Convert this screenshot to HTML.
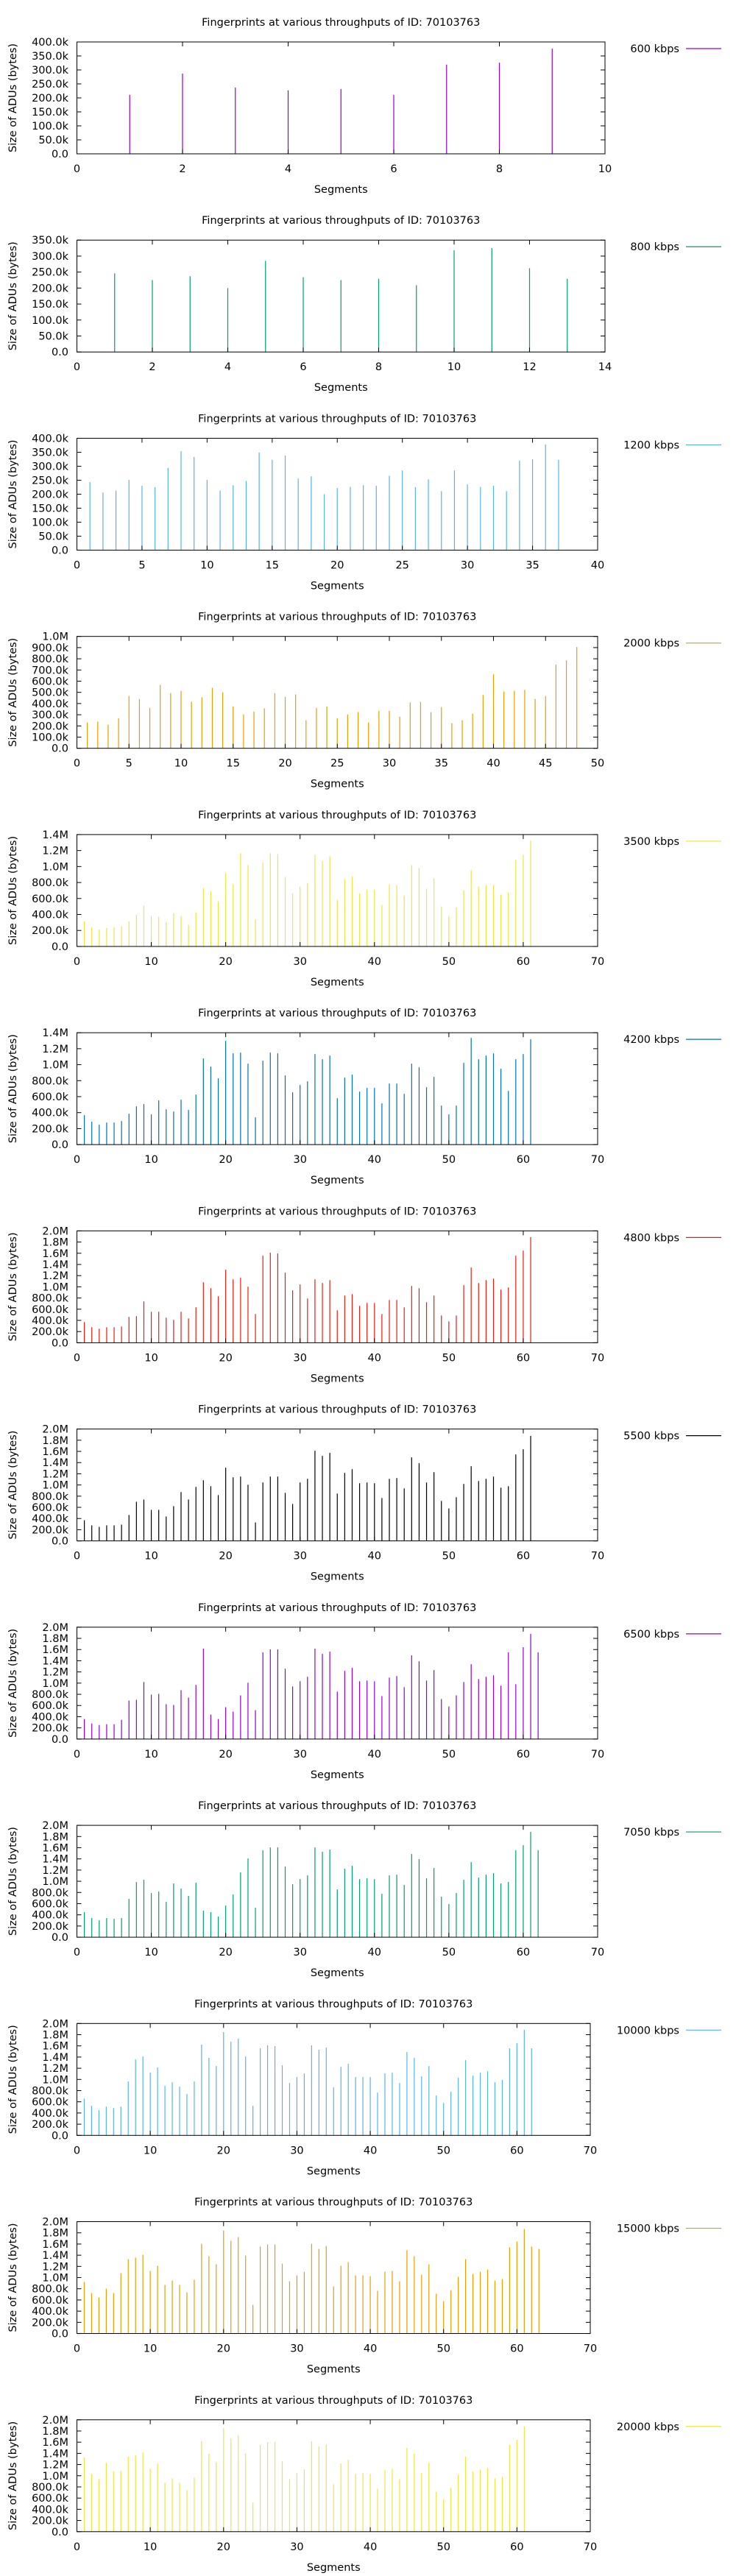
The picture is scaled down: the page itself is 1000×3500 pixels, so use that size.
<!DOCTYPE html>
<html>
<head>
<meta charset="utf-8">
<style>
html,body{margin:0;padding:0;background:#fff;}
svg{display:block;font-family:"DejaVu Sans","Liberation Sans",sans-serif;}
</style>
</head>
<body>
<svg id="chart" width="1000" height="3500" viewBox="0 0 1000 3500" xmlns="http://www.w3.org/2000/svg"></svg>
<script>
const labels = ["600 kbps","800 kbps","1200 kbps","2000 kbps","3500 kbps","4200 kbps","4800 kbps","5500 kbps","6500 kbps","7050 kbps","10000 kbps","15000 kbps","20000 kbps"];
const colors = ["#9400d3","#009e73","#56b4e9","#e69f00","#f0e442","#0072b2","#e51e10","#000000","#9400d3","#009e73","#56b4e9","#e69f00","#f0e442"];
const xMax = [10,14,40,50,70,70,70,70,70,70,70,70,70];
const xStep = [2,2,5,5,10,10,10,10,10,10,10,10,10];
const yMax = [400000,350000,400000,1000000,1400000,1400000,2000000,2000000,2000000,2000000,2000000,2000000,2000000];
const yStep = [50000,50000,50000,100000,200000,200000,200000,200000,200000,200000,200000,200000,200000];
const yTickLabels = [
 ["0.0","50.0k","100.0k","150.0k","200.0k","250.0k","300.0k","350.0k","400.0k"],
 ["0.0","50.0k","100.0k","150.0k","200.0k","250.0k","300.0k","350.0k"],
 ["0.0","50.0k","100.0k","150.0k","200.0k","250.0k","300.0k","350.0k","400.0k"],
 ["0.0","100.0k","200.0k","300.0k","400.0k","500.0k","600.0k","700.0k","800.0k","900.0k","1.0M"],
 ["0.0","200.0k","400.0k","600.0k","800.0k","1.0M","1.2M","1.4M"],
 ["0.0","200.0k","400.0k","600.0k","800.0k","1.0M","1.2M","1.4M"],
 ["0.0","200.0k","400.0k","600.0k","800.0k","1.0M","1.2M","1.4M","1.6M","1.8M","2.0M"],
 ["0.0","200.0k","400.0k","600.0k","800.0k","1.0M","1.2M","1.4M","1.6M","1.8M","2.0M"],
 ["0.0","200.0k","400.0k","600.0k","800.0k","1.0M","1.2M","1.4M","1.6M","1.8M","2.0M"],
 ["0.0","200.0k","400.0k","600.0k","800.0k","1.0M","1.2M","1.4M","1.6M","1.8M","2.0M"],
 ["0.0","200.0k","400.0k","600.0k","800.0k","1.0M","1.2M","1.4M","1.6M","1.8M","2.0M"],
 ["0.0","200.0k","400.0k","600.0k","800.0k","1.0M","1.2M","1.4M","1.6M","1.8M","2.0M"],
 ["0.0","200.0k","400.0k","600.0k","800.0k","1.0M","1.2M","1.4M","1.6M","1.8M","2.0M"]
];
const s600 = [211,287,237,227,232,211,319,326,376];
const s800 = [246,225,237,200,285,234,225,229,209,318,325,262,229];
const s1200 = [243,206,213,251,230,225,294,354,333,251,213,232,248,349,323,338,256,264,200,222,226,232,230,266,285,225,253,211,285,235,226,230,211,320,325,378,323];
const s2000 = [231,238,211,269,467,441,361,566,493,513,416,456,540,500,374,302,328,357,493,460,482,251,361,374,269,302,324,231,335,335,282,410,416,324,368,225,251,309,476,661,507,513,522,441,467,747,786,905];
const s3500 = [315,241,213,231,241,250,315,398,509,380,370,305,417,380,268,426,731,694,564,916,777,1166,1018,342,1055,1166,1156,870,666,749,796,1147,1073,1129,583,842,879,666,712,712,518,777,768,638,1018,981,722,851,500,379,490,703,953,749,768,768,648,675,1082,1147,1323];
const s4200 = [368,286,249,276,276,295,387,479,507,378,553,442,414,562,433,626,1078,976,829,1299,1142,1151,1013,341,1050,1151,1142,866,654,746,792,1133,1068,1114,580,838,875,663,709,709,516,764,764,635,1013,967,718,847,488,378,488,1022,1335,1068,1114,1142,949,672,1068,1133,1317];
const s4800 = [369,277,251,277,277,290,462,475,739,554,554,448,409,554,435,633,1081,976,831,1306,1134,1161,1002,514,1556,1609,1596,1253,936,1042,791,1134,1068,1121,580,844,870,659,712,712,514,765,765,633,1015,976,725,844,488,382,488,1029,1345,1068,1121,1147,950,989,1556,1648,1886];
const s5500 = [370,278,251,278,278,291,463,700,740,555,555,436,621,872,740,965,1084,978,819,1308,1137,1150,1004,330,1044,1150,1150,859,661,1044,1110,1612,1520,1573,846,1216,1282,1031,1044,1031,766,1110,1123,938,1493,1388,1044,1229,714,581,780,1018,1335,1070,1110,1150,951,978,1546,1639,1877];
const s6500 = [358,278,252,265,265,344,689,702,1020,795,808,623,609,874,742,967,1616,437,358,570,490,781,1007,517,1550,1603,1603,1258,940,1033,1113,1616,1523,1563,848,1219,1272,1033,1046,1033,768,1099,1126,927,1497,1391,1046,1232,715,583,781,1020,1338,1073,1113,1139,954,1550,980,1642,1881,1550];
const s7050 = [447,342,303,342,329,342,684,987,1026,789,816,632,961,868,737,974,474,447,368,566,763,1158,1408,526,1553,1605,1605,1263,947,1039,1105,1605,1526,1566,855,1224,1276,1039,1053,1039,776,1105,1118,934,1487,1395,1053,1237,724,592,789,1026,1342,1066,1118,1145,961,987,1553,1645,1882,1553];
const s10000 = [659,528,448,514,488,514,963,1358,1411,1121,1213,884,950,870,739,963,1622,1385,1240,1846,1675,1728,1411,528,1556,1609,1596,1253,936,1042,1108,1609,1530,1569,857,1226,1279,1042,1042,1042,765,1108,1121,936,1490,1385,1055,1240,712,580,778,1029,1345,1068,1121,1147,950,989,1556,1648,1886,1556];
const s15000 = [921,724,645,803,724,1079,1329,1355,1408,1118,1211,868,947,868,737,961,1605,1382,1237,1842,1658,1724,1395,513,1553,1592,1592,1250,934,1039,1105,1605,1513,1566,842,1211,1276,1039,1039,1026,763,1105,1118,934,1487,1382,1053,1237,711,579,776,1013,1329,1066,1105,1145,947,974,1540,1645,1868,1553,1513];
const s20000 = [1325,1033,940,1232,1073,1086,1338,1364,1417,1126,1219,874,954,874,742,967,1616,1391,1245,1854,1669,1722,1404,517,1550,1603,1603,1258,940,1046,1113,1616,1523,1563,848,1219,1285,1033,1046,1033,768,1099,1126,940,1497,1391,1046,1232,715,583,781,1020,1338,1073,1113,1139,954,980,1550,1642,1881];
const seriesK = [s600,s800,s1200,s2000,s3500,s4200,s4800,s5500,s6500,s7050,s10000,s15000,s20000];
const titleText = "Fingerprints at various throughputs of ID: 70103763";

const NS = "http://www.w3.org/2000/svg";
const svg = document.getElementById("chart");
function mk(tag, attrs, parent){
  const e = document.createElementNS(NS, tag);
  for (const k in attrs) e.setAttribute(k, attrs[k]);
  (parent||svg).appendChild(e);
  return e;
}
const PANEL_H = 3500/13;
const LEFT = 104.5;
function plotRight(i){
  const n = labels[i].length;
  if (n <= 8) return 822;
  if (n <= 9) return 812;
  return 802;
}
for (let i = 0; i < 13; i++) {
  const oy = i * PANEL_H;
  const top = oy + 57, bottom = oy + 209;
  const right = plotRight(i);
  const xs = v => LEFT + (v / xMax[i]) * (right - LEFT);
  const ys = v => bottom - (v / yMax[i]) * (bottom - top);
  const g = mk("g", {});
  
  

  const t = mk("text", {x: (LEFT + right) / 2, y: oy + 35, "text-anchor": "middle", "font-size": "14.5"}, g);
  
  
  t.textContent = titleText;

  // bars
  const data = seriesK[i];
  for (let j = 0; j < data.length; j++) {
    const x = xs(j + 1);
    const b = mk("line", {x1: x, x2: x, y1: bottom, y2: ys(data[j] * 1000), stroke: colors[i], "stroke-width": "1.2"}, g);
    
    
  }

  // y ticks
  const yl = yTickLabels[i];
  for (let k = 0; k < yl.length; k++) {
    const v = k * yStep[i];
    const y = ys(v);
    mk("line", {x1: LEFT, x2: LEFT + 6, y1: y, y2: y, stroke: "#000", "stroke-width": "1"}, g);
    mk("line", {x1: right, x2: right - 6, y1: y, y2: y, stroke: "#000", "stroke-width": "1"}, g);
    const tl = mk("text", {x: 93, y: y + 5, "text-anchor": "end", "font-size": "14.5"}, g);
    
    
    tl.textContent = yl[k];
  }
  // x ticks
  for (let v = 0; v <= xMax[i]; v += xStep[i]) {
    const x = xs(v);
    mk("line", {x1: x, x2: x, y1: bottom, y2: bottom - 6, stroke: "#000", "stroke-width": "1"}, g);
    mk("line", {x1: x, x2: x, y1: top, y2: top + 6, stroke: "#000", "stroke-width": "1"}, g);
    const tl = mk("text", {x: x, y: oy + 234, "text-anchor": "middle", "font-size": "14.5"}, g);
    
    
    tl.textContent = String(v);
  }
  // frame
  const fr = mk("rect", {x: LEFT, y: top, width: right - LEFT, height: bottom - top, fill: "none", stroke: "#000", "stroke-width": "1"}, g);
  
  

  const xt = mk("text", {x: (LEFT + right) / 2, y: oy + 262, "text-anchor": "middle", "font-size": "14.5"}, g);
  
  
  xt.textContent = "Segments";

  const yt = mk("text", {x: 0, y: 0, "text-anchor": "middle", "font-size": "14.5", transform: "translate(22," + (oy + 133) + ") rotate(-90)"}, g);
  
  
  yt.textContent = "Size of ADUs (bytes)";

  const lt = mk("text", {x: 923, y: oy + 71, "text-anchor": "end", "font-size": "14.5"}, g);
  
  
  lt.textContent = labels[i];
  const ll = mk("line", {x1: 932, x2: 980, y1: oy + 66, y2: oy + 66, stroke: colors[i], "stroke-width": "1.2"}, g);
  
  
}
</script>
</body>
</html>
